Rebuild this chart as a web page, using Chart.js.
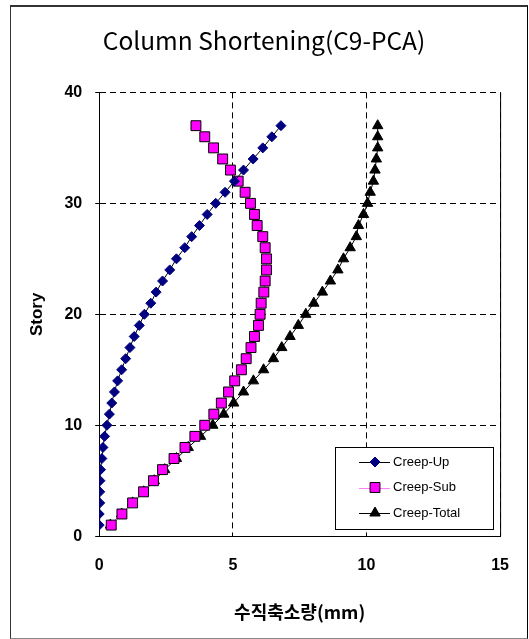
<!DOCTYPE html>
<html>
<head>
<meta charset="utf-8">
<script src="https://cdn.jsdelivr.net/npm/chart.js@4/dist/chart.umd.min.js"></script>
<style>
  html, body { margin: 0; padding: 0; background: #ffffff; }
  #wrap { position: relative; width: 529px; height: 639px; }
  #frame { position: absolute; left: 10px; top: 5px; width: 516px; height: 631px; border: 1px solid #333333; border-top-width: 2px; border-right-color: #000; border-bottom-color: #888; box-sizing: content-box; pointer-events: none; }
  canvas { position: absolute; left: 0; top: 0; }
</style>
</head>
<body>
<div id="wrap">
  <canvas id="chart" width="529" height="639"></canvas>
  <div id="frame"></div>
</div>
<script>
// Story numbers (1..37), top of chart at story 37
const stories = [1, 2, 3, 4, 5, 6, 7, 8, 9, 10, 11, 12, 13, 14, 15, 16, 17, 18, 19,
  20, 21, 22, 23, 24, 25, 26, 27, 28, 29, 30, 31, 32, 33, 34, 35, 36, 37];

// Vertical shortening in mm, story 1 first
const creepUp = [0.00, 0.00, 0.02, 0.02, 0.03, 0.05, 0.10, 0.14, 0.20, 0.29,
  0.38, 0.47, 0.57, 0.69, 0.84, 0.99, 1.15, 1.31, 1.50, 1.69,
  1.93, 2.13, 2.37, 2.64, 2.89, 3.20, 3.46, 3.75, 4.04, 4.36,
  4.71, 5.06, 5.40, 5.76, 6.12, 6.46, 6.80];

const creepSub = [0.45, 0.85, 1.25, 1.66, 2.03, 2.37, 2.80, 3.21, 3.58, 3.95,
  4.29, 4.57, 4.84, 5.07, 5.32, 5.50, 5.68, 5.81, 5.96, 6.02,
  6.06, 6.16, 6.21, 6.26, 6.26, 6.21, 6.12, 5.91, 5.81, 5.66,
  5.46, 5.20, 4.91, 4.62, 4.28, 3.95, 3.62];

const creepTotal = [0.42, 0.84, 1.25, 1.66, 2.06, 2.45, 2.89, 3.33, 3.79, 4.25,
  4.66, 5.03, 5.40, 5.77, 6.15, 6.52, 6.83, 7.14, 7.45, 7.73,
  8.03, 8.35, 8.65, 8.93, 9.14, 9.39, 9.62, 9.70, 9.89, 10.04,
  10.14, 10.26, 10.32, 10.37, 10.42, 10.42, 10.42];

const seriesNames = ['Creep-Up', 'Creep-Sub', 'Creep-Total'];
const xTicks = [0, 5, 10, 15];
const yTicks = [0, 10, 20, 30, 40];

const toPoints = vals => vals.map((v, i) => ({ x: v, y: stories[i] }));

// Solid right edge of the plot (grid at x=15 would be dashed)
const plotFrame = {
  id: 'plotFrame',
  afterDatasetsDraw(chart) {
    const { ctx, chartArea: a } = chart;
    ctx.save();
    ctx.strokeStyle = '#000';
    ctx.lineWidth = 1;
    ctx.beginPath();
    ctx.moveTo(a.right + 0.5, a.top);
    ctx.lineTo(a.right + 0.5, a.bottom);
    ctx.stroke();
    ctx.restore();
  }
};

// Boxed legend inside the lower right of the plot
const boxLegend = {
  id: 'boxLegend',
  afterDraw(chart) {
    const { ctx } = chart;
    const bx = 335, by = 447, bw = 158, bh = 82;
    ctx.save();
    ctx.fillStyle = '#fff';
    ctx.fillRect(bx, by, bw, bh);
    ctx.strokeStyle = '#000';
    ctx.lineWidth = 1;
    ctx.strokeRect(bx + 0.5, by + 0.5, bw, bh);
    chart.data.datasets.forEach((ds, i) => {
      const y = 462 + i * 25.5;
      ctx.strokeStyle = ds.borderColor;
      ctx.lineWidth = 1;
      ctx.beginPath();
      ctx.moveTo(359, Math.round(y) + 0.5);
      ctx.lineTo(390, Math.round(y) + 0.5);
      ctx.stroke();
      ctx.save();
      ctx.fillStyle = ds.pointBackgroundColor;
      ctx.strokeStyle = ds.pointBorderColor;
      ctx.lineWidth = ds.pointBorderWidth;
      Chart.helpers.drawPoint(ctx, {
        pointStyle: ds.pointStyle,
        radius: ds.pointRadius,
        borderWidth: ds.pointBorderWidth
      }, 375, y);
      ctx.restore();
      ctx.fillStyle = '#000';
      ctx.font = '13px "Liberation Sans", Arial, sans-serif';
      ctx.textBaseline = 'middle';
      ctx.fillText(ds.label, 393, y);
    });
    ctx.restore();
  }
};

new Chart(document.getElementById('chart'), {
  type: 'scatter',
  data: {
    datasets: [
      {
        label: seriesNames[0],
        data: toPoints(creepUp),
        showLine: true,
        borderColor: '#000000',
        borderWidth: 1,
        pointStyle: 'rectRot',
        pointRadius: 5,
        pointBackgroundColor: '#000080',
        pointBorderColor: '#000080',
        pointBorderWidth: 1
      },
      {
        label: seriesNames[1],
        data: toPoints(creepSub),
        showLine: true,
        borderColor: '#ff80ff',
        borderWidth: 1,
        pointStyle: 'rect',
        pointRadius: 7,
        pointBackgroundColor: '#ff00ff',
        pointBorderColor: '#000000',
        pointBorderWidth: 1
      },
      {
        label: seriesNames[2],
        data: toPoints(creepTotal),
        showLine: true,
        borderColor: '#000000',
        borderWidth: 1,
        pointStyle: 'triangle',
        pointRadius: 6,
        pointBackgroundColor: '#000000',
        pointBorderColor: '#000000',
        pointBorderWidth: 1
      }
    ]
  },
  options: {
    responsive: false,
    animation: false,
    layout: { padding: { left: 27, right: 28, top: 0, bottom: 16 } },
    plugins: {
      legend: { display: false },
      tooltip: { enabled: false },
      title: {
        display: true,
        text: 'Column Shortening(C9-PCA)',
        color: '#000',
        font: { family: '"Noto Sans CJK KR", "Liberation Sans", sans-serif', size: 24.5, weight: 'normal' },
        padding: { top: 26, bottom: 37 }
      }
    },
    scales: {
      x: {
        type: 'linear',
        min: 0,
        max: 15,
        afterBuildTicks: s => { s.ticks = xTicks.map(v => ({ value: v })); },
        grid: { color: '#000', lineWidth: 1, drawTicks: false },
        border: { display: true, color: '#000', width: 1, dash: [6, 4] },
        ticks: {
          color: '#000',
          padding: 20,
          font: { family: '"Liberation Sans", Arial, sans-serif', size: 16, weight: 'bold' }
        },
        title: {
          display: true,
          text: '수직축소량(mm)',
          color: '#000',
          font: { family: '"Noto Sans CJK KR", sans-serif', size: 18, weight: 'bold' },
          padding: { top: 6, bottom: 0 }
        }
      },
      y: {
        type: 'linear',
        min: 0,
        max: 40,
        afterBuildTicks: s => { s.ticks = yTicks.map(v => ({ value: v })); },
        grid: { color: '#000', lineWidth: 1, tickLength: 4 },
        border: { display: true, color: '#000', width: 1, dash: [6, 4] },
        ticks: {
          color: '#000',
          padding: 13,
          font: { family: '"Liberation Sans", Arial, sans-serif', size: 16, weight: 'bold' }
        },
        title: {
          display: true,
          text: 'Story',
          color: '#000',
          font: { family: '"Liberation Sans", Arial, sans-serif', size: 17, weight: 'bold' },
          padding: { top: 0, bottom: 4 }
        }
      }
    }
  },
  plugins: [plotFrame, boxLegend]
});
</script>
</body>
</html>
